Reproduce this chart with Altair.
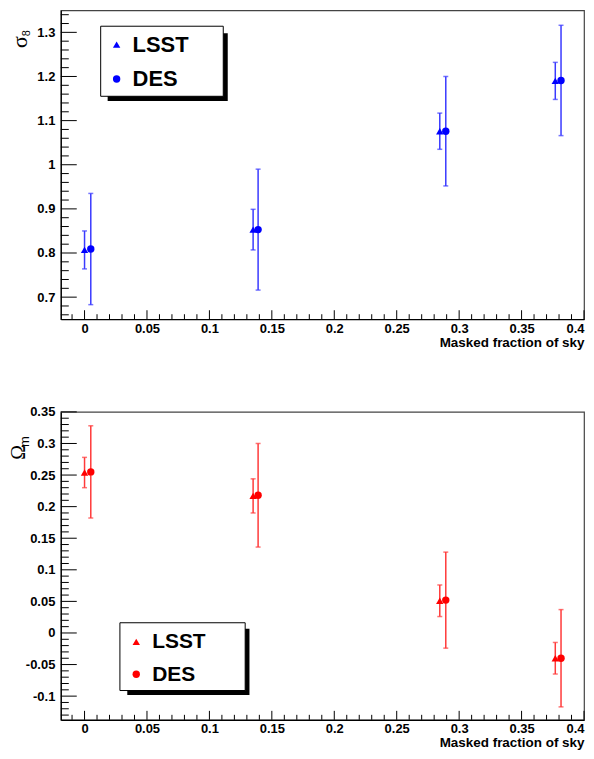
import altair as alt
import pandas as pd

# ---------------- data ----------------
series = ["LSST", "DES"]
mask_lsst = [0.0, 0.135, 0.2845, 0.377]
mask_des = [0.005, 0.139, 0.2893, 0.3816]

sig8_lsst = [0.807, 0.853, 1.076, 1.190]
sig8_lsst_err = [0.043, 0.046, 0.041, 0.042]
sig8_des = [0.809, 0.853, 1.076, 1.191]
sig8_des_err = [0.126, 0.137, 0.124, 0.125]

om_lsst = [0.254, 0.217, 0.051, -0.040]
om_lsst_err = [0.024, 0.027, 0.025, 0.025]
om_des = [0.255, 0.218, 0.052, -0.040]
om_des_err = [0.073, 0.082, 0.076, 0.077]

x_major = [0, 0.05, 0.1, 0.15, 0.2, 0.25, 0.3, 0.35, 0.4]
x_minor = [round(i * 0.01, 2) for i in range(-1, 40) if i % 5]
sig8_major = [0.7, 0.8, 0.9, 1, 1.1, 1.2, 1.3]
sig8_minor = [round(i * 0.02, 2) for i in range(33, 68) if i % 5]
om_major = [-0.1, -0.05, 0, 0.05, 0.1, 0.15, 0.2, 0.25, 0.3, 0.35]
om_minor = [round(i * 0.01, 2) for i in range(-13, 35) if i % 5]

X_TITLE = "Masked fraction of sky"
FONT = "Liberation Sans"
W = 525
MSIZE = 55


def panel(v_l, e_l, v_d, e_d, ydom, ymaj, ymin, H, mcol, ecol,
          glyph, sub, gpos, spos, gsize, ssize, leg):
    df = pd.DataFrame({
        "x": mask_lsst + mask_des,
        "y": v_l + v_d,
        "lo": [v - e for v, e in zip(v_l, e_l)] + [v - e for v, e in zip(v_d, e_d)],
        "hi": [v + e for v, e in zip(v_l, e_l)] + [v + e for v, e in zip(v_d, e_d)],
        "series": [series[0]] * len(v_l) + [series[1]] * len(v_d),
    })
    xs = alt.Scale(domain=[-0.019, 0.4], nice=False, zero=False)
    ys = alt.Scale(domain=ydom, nice=False, zero=False)

    x_axis = alt.Axis(values=x_major, labelExpr="toString(datum.value)", tickSize=0, ticks=False,
                      labelFlush=1, labelOverlap=False, labelPadding=3,
                      labelFont=FONT, labelFontWeight="bold", labelFontSize=13,
                      labelColor="black", domainColor="black", domainWidth=1.2,
                      grid=False, title=X_TITLE, titleAnchor="end", titleFont=FONT,
                      titleFontWeight="bold", titleFontSize=13.5, titleColor="black",
                      titlePadding=0)
    y_axis = alt.Axis(values=ymaj, labelExpr="toString(datum.value)", tickSize=0, ticks=False,
                      labelFlush=False, labelOverlap=False, labelPadding=6,
                      labelFont=FONT, labelFontWeight="bold", labelFontSize=13,
                      labelColor="black", domainColor="black", domainWidth=1.2,
                      grid=False, title="")

    def X(f):
        return alt.X(f + ":Q", scale=xs, axis=x_axis, title=X_TITLE)

    def Y(f):
        return alt.Y(f + ":Q", scale=ys, axis=y_axis, title="")

    base = alt.Chart(df)
    layers = []
    # inward ticks
    layers.append(alt.Chart(pd.DataFrame({"x": x_major})).mark_rule(color="black", strokeWidth=1).encode(
        x=X("x"), y=alt.value(H), y2=alt.value(H - 9)))
    layers.append(alt.Chart(pd.DataFrame({"x": x_minor})).mark_rule(color="black", strokeWidth=1).encode(
        x=X("x"), y=alt.value(H), y2=alt.value(H - 5)))
    layers.append(alt.Chart(pd.DataFrame({"y": ymaj})).mark_rule(color="black", strokeWidth=1).encode(
        y=Y("y"), x=alt.value(0), x2=alt.value(16)))
    layers.append(alt.Chart(pd.DataFrame({"y": ymin})).mark_rule(color="black", strokeWidth=1).encode(
        y=Y("y"), x=alt.value(0), x2=alt.value(8)))
    # error bars
    layers.append(base.mark_rule(color=ecol, strokeWidth=1.5).encode(
        x=X("x"), y=Y("lo"), y2="hi:Q"))
    for f in ["lo", "hi"]:
        layers.append(base.mark_tick(orient="horizontal", size=5, thickness=1.5, color=ecol).encode(
            x=X("x"), y=Y(f)))
    # markers
    layers.append(base.mark_point(filled=True, size=MSIZE, opacity=1, color=mcol).encode(
        x=X("x"), y=Y("y"),
        shape=alt.Shape("series:N", scale=alt.Scale(domain=series, range=["triangle-up", "circle"]),
                        legend=None)))
    # legend box
    bx1, bx2, by1, by2, sx1, sx2, sy1, sy2, symx, symy, tx, ty, tsize = leg
    one = pd.DataFrame({"k": [0]})
    layers.append(alt.Chart(one).mark_rect(color="black").encode(
        x=alt.value(sx1), x2=alt.value(sx2), y=alt.value(sy1), y2=alt.value(sy2)))
    layers.append(alt.Chart(one).mark_rect(fill="white", stroke="black", strokeWidth=1).encode(
        x=alt.value(bx1), x2=alt.value(bx2), y=alt.value(by1), y2=alt.value(by2)))
    shapes = ["triangle-up", "circle"]
    for i, name in enumerate(series):
        layers.append(alt.Chart(pd.DataFrame({"series": [name]})).mark_point(
            filled=True, size=MSIZE, opacity=1, color=mcol, shape=shapes[i]).encode(
            x=alt.value(symx), y=alt.value(symy[i])))
        layers.append(alt.Chart(pd.DataFrame({"series": [name]})).mark_text(
            text=name, font=FONT, fontWeight="bold", fontSize=tsize, color="black",
            align="left", baseline="alphabetic").encode(
            x=alt.value(tx), y=alt.value(ty[i])))
    # y title (greek symbol + subscript)
    layers.append(alt.Chart(one).mark_text(
        text=glyph, font="Liberation Serif", fontSize=gsize, color="black", angle=270,
        align="center", baseline="middle").encode(x=alt.value(gpos[0]), y=alt.value(gpos[1])))
    layers.append(alt.Chart(one).mark_text(
        text=sub, font="Liberation Sans", fontSize=ssize, color="black", angle=270,
        align="center", baseline="middle").encode(x=alt.value(spos[0]), y=alt.value(spos[1])))
    return alt.layer(*layers).properties(width=W, height=H)


top = panel(sig8_lsst, sig8_lsst_err, sig8_des, sig8_des_err, [0.65, 1.35],
            sig8_major, sig8_minor, 310, "#0000ff", "#3a3aff",
            "σ", "8", (-41, 32), (-34, 23), 22, 11,
            (40, 163, 16, 86.3, 47, 167.5, 23, 91, 56, [34.5, 69], 72, [42, 76], 22))
bottom = panel(om_lsst, om_lsst_err, om_des, om_des_err, [-0.1375, 0.35],
               om_major, om_minor, 309, "#ff0000", "#ff3a3a",
               "Ω", "m", (-42, 40.6), (-36, 29.7), 20, 13,
               (59.3, 185, 211.6, 279.6, 66.7, 189.3, 217.6, 284.2, 75.7, [230.8, 263.2], 91.7, [236.7, 269.7], 21))

chart = alt.vconcat(top, bottom, spacing=55).properties(
    padding={"left": 0, "top": 0, "right": 0, "bottom": 0}
).configure_view(stroke="#444444", strokeWidth=1.2)

chart.save("out.html", embed_options={"renderer": "svg", "actions": False})
